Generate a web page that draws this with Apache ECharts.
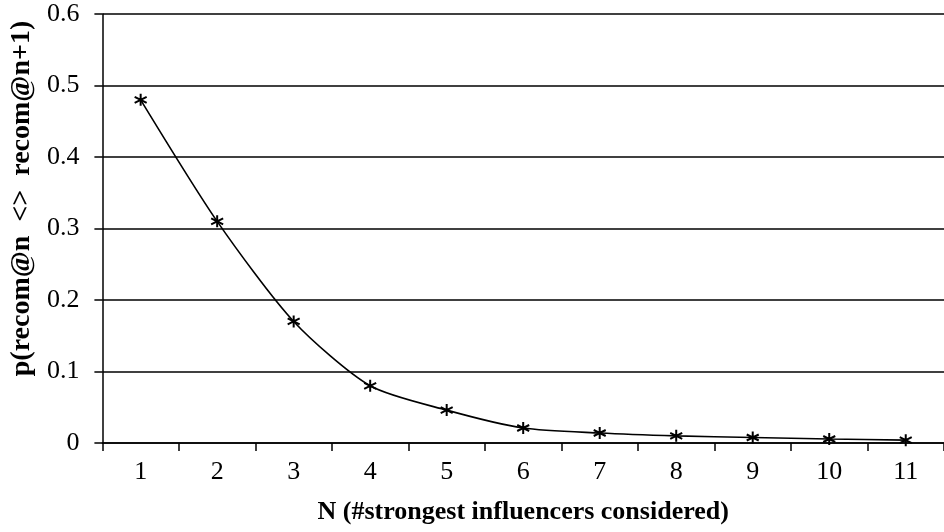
<!DOCTYPE html>
<html><head><meta charset="utf-8">
<script src="https://cdn.jsdelivr.net/npm/echarts@6/dist/echarts.min.js"></script>
<style>html,body{margin:0;padding:0;background:#fff}#c{width:944px;height:532px}</style>
</head><body><div id="c"></div>
<script>
const categories = ['1','2','3','4','5','6','7','8','9','10','11'];
const values = [0.48, 0.31, 0.17, 0.08, 0.046, 0.021, 0.014, 0.010, 0.0077, 0.0056, 0.004];
const xTitle = 'N (#strongest influencers considered)';
const yTitle = 'p(recom@n  <>  recom@n+1)';
const font = '"Liberation Serif", "Times New Roman", serif';
const chart = echarts.init(document.getElementById('c'), null, {renderer: 'canvas'});
chart.setOption({
  animation: false,
  backgroundColor: '#fff',
  grid: {left: 97, right: -7, top: 14, bottom: 89, containLabel: false},
  xAxis: {
    type: 'category', data: categories, boundaryGap: true,
    name: xTitle, nameLocation: 'middle', nameGap: 56,
    nameTextStyle: {fontFamily: font, fontSize: 26, fontWeight: 'bold', color: '#000'},
    axisLine: {lineStyle: {color: '#000', width: 1.5}},
    axisTick: {show: true, alignWithLabel: false, length: 8, lineStyle: {color: '#000', width: 1.5}},
    axisLabel: {fontFamily: font, fontSize: 26, color: '#000', margin: 16},
    splitLine: {show: false}
  },
  yAxis: {
    type: 'value', min: 0, max: 0.6, interval: 0.1,
    name: yTitle, nameLocation: 'middle', nameGap: 66, nameRotate: 90,
    nameTextStyle: {fontFamily: font, fontSize: 28, fontWeight: 'bold', color: '#000', padding: [0, 0, 0, 60]},
    axisLine: {show: true, lineStyle: {color: '#000', width: 1.5}},
    axisTick: {show: true, length: 8, lineStyle: {color: '#000', width: 1.5}},
    axisLabel: {fontFamily: font, fontSize: 26, color: '#000', margin: 23,
      formatter: v => (Math.round(v*10)/10).toString()},
    splitLine: {show: true, lineStyle: {color: '#000', width: 1.5}}
  },
  series: [{
    type: 'line', data: values, smooth: 0.25,
    lineStyle: {color: '#000', width: 1.6},
    symbol: 'path://M0,-10 L0,10 M-8.66,-5 L8.66,5 M-8.66,5 L8.66,-5',
    symbolSize: 12, showAllSymbol: true,
    itemStyle: {color: 'none', borderColor: '#000', borderWidth: 2}
  }]
});
</script></body></html>
